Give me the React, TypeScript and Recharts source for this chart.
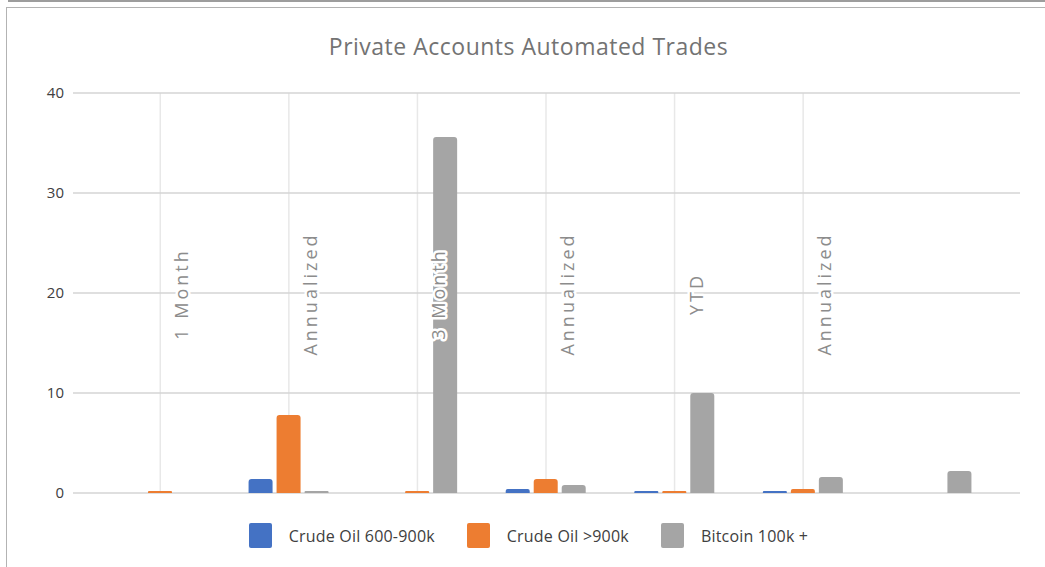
import React from "react";
import {
  BarChart,
  Bar,
  XAxis,
  YAxis,
  CartesianGrid,
  ReferenceDot,
  Legend,
} from "recharts";

const periods = ["1M", "1M-Ann", "3M", "3M-Ann", "YTD", "YTD-Ann", "Other"];
const periodLabels = ["1 Month", "Annualized", "3 Month", "Annualized", "YTD", "Annualized", ""];
const crudeOil600to900k = [0, 1.4, 0, 0.4, 0.2, 0.2, 0];
const crudeOilOver900k = [0.2, 7.8, 0.2, 1.4, 0.2, 0.4, 0];
const bitcoin100k = [0, 0.2, 35.6, 0.8, 10.0, 1.6, 2.2];
const yTicks = [0, 10, 20, 30, 40];
const seriesNames = ["Crude Oil 600-900k", "Crude Oil >900k", "Bitcoin 100k +"];

const data = periods.map((p, i) => ({
  key: p,
  label: periodLabels[i],
  a: crudeOil600to900k[i],
  b: crudeOilOver900k[i],
  c: bitcoin100k[i],
}));

const gridPeriods = periods.filter((_, i) => periodLabels[i] !== "");

const FONT = "'Open Sans', 'DejaVu Sans', sans-serif";

const verticalGen = (props: any) => {
  try {
    const s = props?.xAxis?.scale;
    if (!s) return [];
    const bw = typeof s.bandwidth === "function" ? s.bandwidth() : 0;
    const toPx = (v: string): number =>
      typeof s === "function" ? s(v) : typeof s.map === "function" ? s.map(v) : NaN;
    return gridPeriods.map((p) => toPx(p) + bw / 2).filter((v) => Number.isFinite(v));
  } catch (e) {
    return [];
  }
};

const LegendContent = (props: any) => {
  const payload = [...(props.payload || [])].sort(
    (x: any, y: any) => seriesNames.indexOf(x.value) - seriesNames.indexOf(y.value)
  );
  return (
    <div style={{ display: "flex", justifyContent: "center", alignItems: "center", fontFamily: FONT }}>
      {payload.map((entry: any, i: number) => (
        <div key={i} style={{ display: "flex", alignItems: "center", marginRight: i < 2 ? 32 : 0 }}>
          <div style={{ width: 23, height: 25, background: entry.color, borderRadius: 2, marginRight: 17 }} />
          <span style={{ fontSize: 16, color: "#404040", letterSpacing: 0.2 }}>{entry.value}</span>
        </div>
      ))}
    </div>
  );
};

export default function App() {
  return (
    <div style={{ position: "absolute", left: 0, top: 0, width: 1045, height: 567, background: "#fff" }}>
      <div style={{ position: "absolute", left: 8, top: 0, width: 1037, height: 2, background: "#9d9d9d" }} />
      <div style={{ position: "absolute", left: 6, top: 7, width: 1039, height: 1, background: "#b3b3b3" }} />
      <div style={{ position: "absolute", left: 6, top: 7, width: 1, height: 560, background: "#b3b3b3" }} />
      <div
        style={{
          position: "absolute",
          left: 0,
          top: 31,
          width: 1057,
          textAlign: "center",
          fontFamily: FONT,
          fontSize: 23,
          letterSpacing: 0.5,
          color: "#737373",
          lineHeight: "30px",
        }}
      >
        Private Accounts Automated Trades
      </div>
      <div style={{ position: "absolute", left: 0, top: 0 }}>
        <BarChart
          width={1045}
          height={567}
          data={data}
          margin={{ top: 93, right: 25, bottom: 74, left: 0 }}
          barSize={24}
          barGap={4}
        >
          <CartesianGrid
            horizontal={false}
            vertical={true}
            stroke="#e8e8e8"
            strokeWidth={1.5}
            verticalCoordinatesGenerator={verticalGen}
          />
          <CartesianGrid vertical={false} stroke="#d4d4d4" strokeWidth={1.5} />
          <XAxis
            dataKey="key"
            tick={false}
            tickLine={false}
            height={0}
            padding={{ left: 23, right: 24 }}
            axisLine={{ stroke: "#404040", strokeWidth: 2 }}
          />
          <YAxis
            width={73}
            domain={[0, 40]}
            ticks={yTicks}
            axisLine={false}
            tickLine={false}
            tickMargin={3}
            tick={{ fontSize: 15, fill: "#404040", fontFamily: FONT }}
          />
          <Bar dataKey="a" name={seriesNames[0]} fill="#4472C4" radius={[3, 3, 0, 0]} isAnimationActive={false} />
          <Bar dataKey="b" name={seriesNames[1]} fill="#ED7D31" radius={[3, 3, 0, 0]} isAnimationActive={false} />
          <Bar dataKey="c" name={seriesNames[2]} fill="#A5A5A5" radius={[3, 3, 0, 0]} isAnimationActive={false} />
          {data
            .filter((d) => d.label)
            .map((d) => (
              <ReferenceDot
                key={"l" + d.key}
                x={d.key}
                y={20}
                r={0}
                ifOverflow="visible"
                shape={(props: any) => {
                  const x = props.cx + 21;
                  const y = props.cy + 1;
                  return (
                    <text
                      x={x}
                      y={y}
                      transform={`rotate(-90, ${x}, ${y})`}
                      textAnchor="middle"
                      dominantBaseline="central"
                      fontFamily={FONT}
                      fontSize={18}
                      letterSpacing={3}
                      fill="#8c8c8c"
                      stroke="#ffffff"
                      strokeWidth={5}
                      strokeLinejoin="round"
                      style={{ paintOrder: "stroke" }}
                    >
                      {d.label}
                    </text>
                  );
                }}
              />
            ))}
          <Legend
            verticalAlign="middle"
            align="center"
            layout="horizontal"
            content={<LegendContent />}
            wrapperStyle={{ left: 0, top: 523, width: 1057 }}
          />
        </BarChart>
      </div>
    </div>
  );
}
